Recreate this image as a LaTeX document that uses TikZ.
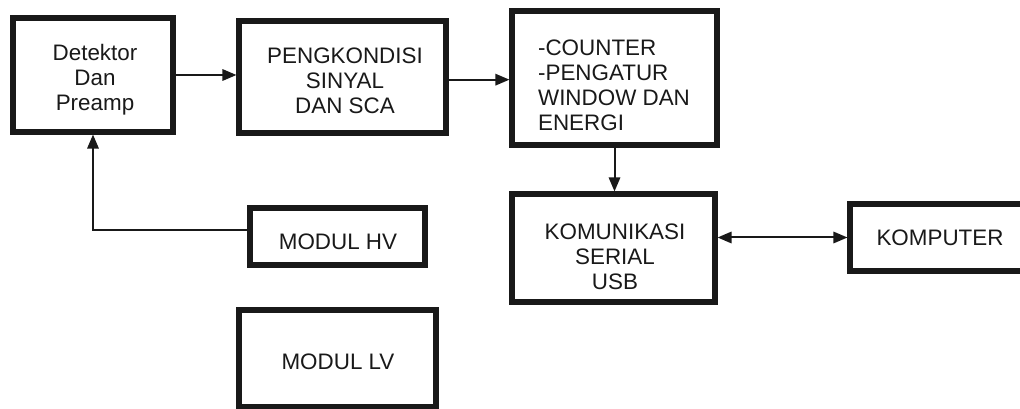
\documentclass[tikz,border=0pt]{standalone}
\usepackage{fontspec}
\setmainfont{Liberation Sans}
\usetikzlibrary{arrows.meta}
\begin{document}
\begin{tikzpicture}[x=0.75pt,y=-0.75pt,
  blk/.style={draw=black!90, line width=3.8pt, inner sep=0pt},
  txt/.style={font=\fontsize{16.8}{18.75}\selectfont, align=center, inner sep=0pt, text=black!90},
  tip/.tip={Triangle[length=10.5pt,width=8.5pt]},
  arr/.style={draw=black!90, line width=1.5pt, -tip},
  darr/.style={draw=black!90, line width=1.5pt, tip-tip},
]
\useasboundingbox[fill=white] (0,0) rectangle (1020,409);
% boxes
\node[blk, minimum width=120pt, minimum height=85.5pt] (det) at (93,75) {};
\node[blk, minimum width=155.25pt, minimum height=84pt] (pk) at (342.5,77) {};
\node[blk, minimum width=153.75pt, minimum height=100.5pt] (cnt) at (614.5,78) {};
\node[blk, minimum width=152.25pt, minimum height=81pt] (kom) at (613.5,248) {};
\node[blk, minimum width=130.5pt, minimum height=50.25pt] (pc) at (937,237.5) {};
\node[blk, minimum width=131.25pt, minimum height=42.75pt] (hv) at (337.5,236.5) {};
\node[blk, minimum width=147.75pt, minimum height=72.75pt] (lv) at (337.5,358.5) {};
% texts
\node[txt] (detT) at (95,80) {Detektor\\Dan\\Preamp};
\node[txt] (pkT) at (345,81) {PENGKONDISI\\SINYAL\\DAN SCA};
\node[txt, align=left] (cntT) at (614,85) {-COUNTER\\-PENGATUR\\WINDOW DAN\\ENERGI};
\node[txt] (komT) at (615,257) {KOMUNIKASI\\SERIAL\\USB};
\node[txt] (pcT) at (940,238) {KOMPUTER};
\node[txt] (hvT) at (338,242) {MODUL HV};
\node[txt] (lvT) at (338,362) {MODUL LV};
% connectors
\coordinate (pkout) at ([yshift=-2pt]pk.east);
\coordinate (hvout) at ([yshift=4.5pt]hv.west);
\draw[arr] (det.east) -- (pk.west |- det.east);
\draw[arr] (pkout) -- (cnt.west |- pkout);
\draw[arr] (cnt.south) -- (kom.north -| cnt.south);
\draw[darr] (kom.east |- pc.west) -- (pc.west);
\draw[arr] (hvout) -| (det.south);
\end{tikzpicture}
\end{document}
